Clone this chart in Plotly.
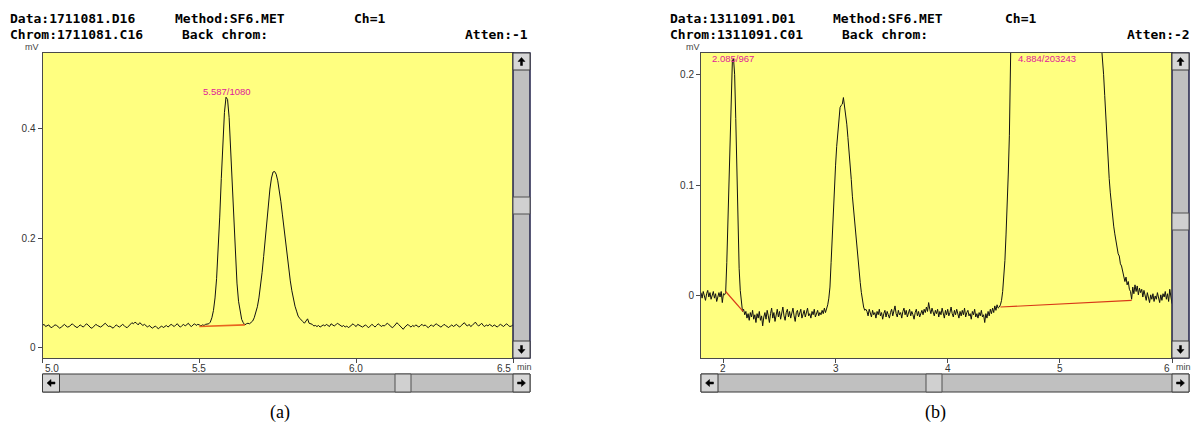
import plotly.graph_objects as go

W, H = 1193, 428


def px(x):
    return x / W


def py(y):
    return 1 - y / H


# ---------------- DATA ----------------
# Panel (a): time grid start/step (min) and detector signal (mV)
A_T0, A_DT = 5.0, 0.005
a_signal = [
    0.041, 0.043, 0.039, 0.040, 0.042, 0.038, 0.037, 0.040, 0.042, 0.041, 0.039, 0.036, 0.038, 0.041, 0.043, 0.040, 0.038, 0.039, 0.042, 0.044,
    0.041, 0.039, 0.037, 0.039, 0.042, 0.040, 0.038, 0.041, 0.044, 0.042, 0.039, 0.036, 0.037, 0.040, 0.043, 0.041, 0.039, 0.038, 0.040, 0.043,
    0.045, 0.042, 0.039, 0.040, 0.038, 0.036, 0.039, 0.042, 0.040, 0.038, 0.040, 0.043, 0.041, 0.038, 0.037, 0.040, 0.043, 0.046, 0.044, 0.047,
    0.045, 0.042, 0.046, 0.044, 0.041, 0.043, 0.040, 0.038, 0.041, 0.039, 0.036, 0.038, 0.040, 0.037, 0.035, 0.038, 0.040, 0.037, 0.039, 0.041,
    0.038, 0.040, 0.043, 0.041, 0.039, 0.042, 0.044, 0.040, 0.038, 0.041, 0.043, 0.040, 0.042, 0.045, 0.041, 0.039, 0.042, 0.044, 0.041, 0.043,
    0.042, 0.040, 0.042, 0.041, 0.043, 0.043, 0.044, 0.047, 0.055, 0.068, 0.091, 0.126, 0.176, 0.238, 0.308, 0.375, 0.428, 0.456, 0.452, 0.419,
    0.362, 0.294, 0.225, 0.165, 0.118, 0.085, 0.064, 0.052, 0.046, 0.042, 0.044, 0.045, 0.044, 0.047, 0.049, 0.055, 0.063, 0.075, 0.091, 0.112,
    0.137, 0.166, 0.198, 0.231, 0.262, 0.289, 0.309, 0.320, 0.321, 0.316, 0.304, 0.287, 0.266, 0.242, 0.216, 0.190, 0.166, 0.142, 0.122, 0.104,
    0.088, 0.076, 0.067, 0.058, 0.054, 0.050, 0.048, 0.045, 0.049, 0.053, 0.045, 0.044,
    0.043, 0.040, 0.041, 0.039, 0.041, 0.038, 0.040, 0.042, 0.040, 0.043, 0.041, 0.039, 0.044, 0.042, 0.040, 0.042, 0.045, 0.043, 0.041, 0.039,
    0.041, 0.038, 0.040, 0.037, 0.039, 0.042, 0.044, 0.041, 0.039, 0.043, 0.041, 0.040, 0.038, 0.040, 0.042, 0.039, 0.037, 0.040, 0.043, 0.041,
    0.038, 0.041, 0.044, 0.042, 0.039, 0.041, 0.040, 0.043, 0.045, 0.042, 0.040, 0.037, 0.039, 0.042, 0.046, 0.043, 0.040, 0.036, 0.034, 0.038,
    0.041, 0.043, 0.040, 0.038, 0.041, 0.039, 0.042, 0.040, 0.038, 0.041, 0.043, 0.040, 0.042, 0.039, 0.037, 0.040, 0.042, 0.039, 0.041, 0.044,
    0.042, 0.040, 0.038, 0.040, 0.043, 0.041, 0.039, 0.037, 0.040, 0.042, 0.039, 0.041, 0.043, 0.040, 0.038, 0.041, 0.044, 0.046, 0.042, 0.040,
    0.043, 0.039, 0.041, 0.044, 0.047, 0.043, 0.040, 0.042, 0.045, 0.041, 0.039, 0.042, 0.040, 0.043, 0.041, 0.039, 0.042, 0.040, 0.038, 0.041,
    0.043, 0.041, 0.039, 0.042, 0.044, 0.041, 0.039, 0.040, 0.042,
]

# Panel (b): time grid start/step (min) and detector signal (mV)
B_T0, B_DT = 1.8, 0.01
b_signal = [
    # 1.80 - 2.01
    0.003, -0.002, 0.004, 0.000, -0.004, 0.002, 0.005, -0.001, 0.003, -0.003, 0.001, 0.004, -0.002, 0.002, -0.005, 0.000, 0.003, -0.001, 0.004, -0.006, 0.002, 0.001,
    # 2.02 - 2.17
    0.003, 0.030, 0.070, 0.110, 0.155, 0.190, 0.213, 0.214, 0.200, 0.160, 0.105, 0.060, 0.025, 0.005, -0.008, -0.014,
    # 2.18 - 2.90
    -0.012, -0.017, -0.014, -0.020, -0.016, -0.022, -0.015, -0.019, -0.013, -0.021,
    -0.017, -0.024, -0.016, -0.020, -0.014, -0.022, -0.018, -0.027, -0.019, -0.015,
    -0.021, -0.013, -0.018, -0.024, -0.016, -0.011, -0.020, -0.015, -0.023, -0.017,
    -0.012, -0.019, -0.014, -0.021, -0.016, -0.010, -0.018, -0.022, -0.015, -0.012,
    -0.019, -0.014, -0.020, -0.016, -0.011, -0.018, -0.023, -0.015, -0.013, -0.019,
    -0.016, -0.012, -0.020, -0.017, -0.013, -0.019, -0.015, -0.011, -0.018, -0.016,
    -0.020, -0.014, -0.017, -0.012, -0.019, -0.016, -0.013, -0.018, -0.015, -0.017,
    -0.013, -0.016, -0.011,
    # 2.91 - 3.27
    -0.015, -0.012, -0.008, -0.002, 0.008, 0.030, 0.055, 0.078, 0.100, 0.118, 0.135, 0.148, 0.160, 0.170, 0.172, 0.173, 0.179, 0.172, 0.165,
    0.155, 0.143, 0.127, 0.118, 0.105, 0.090, 0.078, 0.068, 0.058, 0.048, 0.035, 0.022, 0.012, 0.003, -0.005, -0.010, -0.013, -0.012,
    # 3.28 - 4.45
    -0.014, -0.018, -0.012, -0.016, -0.019, -0.013, -0.017, -0.015, -0.020, -0.014,
    -0.017, -0.012, -0.018, -0.015, -0.021, -0.016, -0.013, -0.019, -0.014, -0.017,
    -0.020, -0.015, -0.012, -0.018, -0.014, -0.009, -0.016, -0.019, -0.013, -0.017,
    -0.015, -0.020, -0.014, -0.011, -0.017, -0.013, -0.019, -0.016, -0.012, -0.018,
    -0.014, -0.017, -0.021, -0.015, -0.012, -0.018, -0.014, -0.019, -0.016, -0.013,
    -0.017, -0.012, -0.015, -0.010, -0.014, -0.006, -0.012, -0.016, -0.011, -0.015,
    -0.018, -0.013, -0.016, -0.012, -0.019, -0.014, -0.017, -0.011, -0.015, -0.020,
    -0.013, -0.017, -0.012, -0.018, -0.015, -0.010, -0.016, -0.019, -0.013, -0.017,
    -0.012, -0.016, -0.020, -0.014, -0.018, -0.013, -0.017, -0.011, -0.019, -0.015,
    -0.013, -0.018, -0.016, -0.021, -0.014, -0.017, -0.012, -0.019, -0.016, -0.020,
    -0.015, -0.018, -0.013, -0.019, -0.017, -0.024, -0.016, -0.020, -0.014, -0.018,
    -0.012, -0.016, -0.011, -0.015, -0.009, -0.013, -0.008, -0.011,
    # 4.46 - 5.64 (main peak, off scale in the middle)
    -0.010, -0.008, -0.004, 0.004, 0.016, 0.032, 0.055, 0.078, 0.110, 0.145, 0.205, 0.26, 0.34, 0.45,
    0.58, 0.70, 0.82, 0.94, 1.05, 1.16, 1.26, 1.36, 1.45, 1.54,
    1.62, 1.70, 1.77, 1.84, 1.90, 1.96, 2.01, 2.06, 2.10, 2.14,
    2.17, 2.20, 2.22, 2.24, 2.25, 2.26, 2.27, 2.27, 2.28, 2.27,
    2.26, 2.25, 2.23, 2.21, 2.19, 2.16, 2.13, 2.10, 2.06, 2.02,
    1.98, 1.93, 1.88, 1.83, 1.77, 1.71, 1.65, 1.59, 1.53, 1.46,
    1.40, 1.33, 1.27, 1.20, 1.14, 1.07, 1.01, 0.95, 0.89, 0.83,
    0.78, 0.72, 0.67, 0.62, 0.57, 0.53, 0.48, 0.44, 0.41, 0.38,
    0.36, 0.335, 0.31, 0.29, 0.27, 0.255, 0.24, 0.228, 0.218, 0.200,
    0.181, 0.160, 0.141, 0.122, 0.106, 0.093, 0.081, 0.071, 0.063, 0.056,
    0.049, 0.045, 0.038, 0.036, 0.029, 0.027, 0.021, 0.019, 0.013, 0.017,
    0.010, 0.013, 0.006, 0.004, -0.003,
    # 5.65 - 6.00
    0.008, 0.002, 0.010, 0.004, 0.009, 0.001, 0.007, 0.003, 0.006, -0.001,
    0.005, 0.000, -0.004, 0.003, -0.002, -0.006, 0.001, -0.003, 0.002, -0.005,
    0.000, -0.003, 0.003, -0.002, -0.006, 0.001, -0.004, 0.002, -0.001, 0.004,
    -0.003, 0.002, -0.005, 0.006, -0.002, -0.007,
]

assert len(a_signal) == 301, len(a_signal)
assert len(b_signal) == 421, len(b_signal)

a_time = [round(A_T0 + A_DT * i, 4) for i in range(len(a_signal))]
b_time = [round(B_T0 + B_DT * i, 4) for i in range(len(b_signal))]

# integration baselines (red)
a_base_t = [5.500, 5.645]
a_base_v = [0.039, 0.042]
b_base1_t = [2.02, 2.175]
b_base1_v = [0.004, -0.014]
b_base2_t = [4.47, 5.64]
b_base2_v = [-0.010, -0.004]

# peak labels
a_peak_t = [5.587]
a_peak_v = [0.467]
a_peak_text = ["5.587/1080"]
b_peak_t = [2.085, 4.884]
b_peak_v = [0.2138, 0.2138]
b_peak_text = ["2.085/967", "4.884/203243"]

# axis ticks
a_xticks = [5.0, 5.5, 6.0, 6.5]
a_xtext = ["5.0", "5.5", "6.0", "6.5"]
a_yticks = [0, 0.2, 0.4]
a_ytext = ["0", "0.2", "0.4"]
b_xticks = [2, 3, 4, 5, 6]
b_xtext = ["2", "3", "4", "5", "6"]
b_yticks = [0, 0.1, 0.2]
b_ytext = ["0", "0.1", "0.2"]

# header texts: (text, x pixel, row, anchor)
a_header = [("Data:1711081.D16", 8, 1, "left"), ("Method:SF6.MET", 173, 1, "left"), ("Ch=1", 352, 1, "left"),
            ("Chrom:1711081.C16", 8, 2, "left"), ("Back chrom:", 180, 2, "left"), ("Atten:-1", 530, 2, "right")]
b_header = [("Data:1311091.D01", 668, 1, "left"), ("Method:SF6.MET", 831, 1, "left"), ("Ch=1", 1003, 1, "left"),
            ("Chrom:1311091.C01", 668, 2, "left"), ("Back chrom:", 840, 2, "left"), ("Atten:-2", 1192, 2, "right")]

# ---------------- FIGURE ----------------
fig = go.Figure()
fig.add_trace(go.Scatter(x=a_time, y=a_signal, mode="lines", line=dict(color="#111111", width=1),
                         xaxis="x", yaxis="y", hoverinfo="skip"))
fig.add_trace(go.Scatter(x=a_base_t, y=a_base_v, mode="lines", line=dict(color="#e8641e", width=1.6),
                         xaxis="x", yaxis="y", hoverinfo="skip"))
fig.add_trace(go.Scatter(x=b_time, y=b_signal, mode="lines", line=dict(color="#111111", width=1),
                         xaxis="x2", yaxis="y2", hoverinfo="skip"))
fig.add_trace(go.Scatter(x=b_base1_t, y=b_base1_v, mode="lines", line=dict(color="#d83818", width=1.2),
                         xaxis="x2", yaxis="y2", hoverinfo="skip"))
fig.add_trace(go.Scatter(x=b_base2_t, y=b_base2_v, mode="lines", line=dict(color="#d83818", width=1.2),
                         xaxis="x2", yaxis="y2", hoverinfo="skip"))

AX = "#4a4a4a"
TICKFONT = dict(family="Liberation Sans", size=10, color="#333333")


def xaxis_cfg(x0, x1, rng, ticks, anchor):
    return dict(domain=[px(x0), px(x1)], range=rng, showgrid=False, zeroline=False,
                showline=True, linecolor=AX, linewidth=1, mirror=True,
                ticks="outside", ticklen=4, tickcolor=AX, tickvals=ticks,
                showticklabels=False, fixedrange=True, anchor=anchor)


def yaxis_cfg(rng, ticks, text, anchor):
    return dict(domain=[py(358), py(53)], range=rng, showgrid=False, zeroline=False,
                showline=True, linecolor=AX, linewidth=1, mirror=True,
                ticks="outside", ticklen=4, tickcolor=AX, tickvals=ticks, ticktext=text,
                tickfont=TICKFONT, anchor=anchor, fixedrange=True)


shapes = []
annotations = []


def rect(x0, y0, x1, y1, fill, line="#404040", lw=1):
    shapes.append(dict(type="rect", xref="paper", yref="paper", x0=px(x0), x1=px(x1),
                       y0=py(y1), y1=py(y0), fillcolor=fill, line=dict(color=line, width=lw), layer="above"))


def arrow(cx, cy, d):
    pts = [(-3.5, 0), (0, -4), (3.5, 0), (1, 0), (1, 4), (-1, 4), (-1, 0)]
    out = []
    for dx, dy in pts:
        if d == "up":
            u, v = dx, dy
        elif d == "down":
            u, v = dx, -dy
        elif d == "left":
            u, v = dy, dx
        else:
            u, v = -dy, dx
        out.append((px(cx + u), py(cy + v)))
    path = "M " + " L ".join(f"{a:.5f},{b:.5f}" for a, b in out) + " Z"
    shapes.append(dict(type="path", xref="paper", yref="paper", path=path,
                       fillcolor="#000000", line=dict(color="#000000", width=0.5), layer="above"))


def button(x0, y0, x1, y1, d):
    rect(x0, y0, x1, y1, "#d6d6d6", "#3a3a3a", 1)
    arrow((x0 + x1) / 2, (y0 + y1) / 2, d)


def panel_chrome(left, right_plot, right, vthumb, hthumb):
    # vertical scrollbar
    rect(right_plot, 53, right, 358, "#c0c0c0", "#22224a", 1.5)
    button(right_plot, 53, right, 70, "up")
    button(right_plot, 341, right, 358, "down")
    rect(right_plot, vthumb, right, vthumb + 17, "#d0d0d0", "#505050", 1)
    # horizontal scrollbar
    rect(left, 374, right, 392, "#c0c0c0", "#3a3a3a", 1)
    button(left, 374, left + 17, 392, "left")
    button(right - 17, 374, right, 392, "right")
    rect(hthumb, 374, hthumb + 16, 392, "#d0d0d0", "#505050", 1)


panel_chrome(42.5, 513, 530, 197, 395)
panel_chrome(701, 1172, 1189, 213, 926)

MONO = dict(family="DejaVu Sans Mono", size=13, color="#000000")
for hdr in (a_header, b_header):
    for text, xl, row, anc in hdr:
        annotations.append(dict(text="<b>" + text + "</b>", x=px(xl), y=py(18.5 if row == 1 else 35),
                                xref="paper", yref="paper", xanchor=anc, yanchor="middle",
                                showarrow=False, font=MONO))

SMALL = dict(family="Liberation Sans", size=9, color="#444444")
for xc in (32, 693):
    annotations.append(dict(text="mV", x=px(xc), y=py(47), xref="paper", yref="paper",
                            xanchor="center", yanchor="middle", showarrow=False, font=SMALL))
for xl in (515, 1174):
    annotations.append(dict(text="min", x=px(xl), y=py(367), xref="paper", yref="paper",
                            xanchor="left", yanchor="middle", showarrow=False, font=SMALL))

for ticks, texts, xref, lo, hi in ((a_xticks, a_xtext, "x", 5.0, 6.5), (b_xticks, b_xtext, "x2", 1.8, 6.0)):
    for t, s in zip(ticks, texts):
        anc = "left" if abs(t - lo) < 1e-9 else ("right" if abs(t - hi) < 1e-9 else "center")
        annotations.append(dict(text=s, x=t, y=py(368), xref=xref, yref="paper", xanchor=anc,
                                yanchor="middle", showarrow=False, font=TICKFONT))

PINK = dict(family="Liberation Sans", size=9.5, color="#e0209a")
for t, v, s in zip(a_peak_t, a_peak_v, a_peak_text):
    annotations.append(dict(text=s, x=t, y=v, xref="x", yref="y", xanchor="center", yanchor="middle",
                            showarrow=False, font=PINK))
for t, v, s in zip(b_peak_t, b_peak_v, b_peak_text):
    annotations.append(dict(text=s, x=t, y=v, xref="x2", yref="y2", xanchor="center", yanchor="middle",
                            showarrow=False, font=PINK))

CAP = dict(family="Liberation Serif", size=18, color="#000000")
for s, xc in (("(a)", 280), ("(b)", 935)):
    annotations.append(dict(text=s, x=px(xc), y=py(412), xref="paper", yref="paper", xanchor="center",
                            yanchor="middle", showarrow=False, font=CAP))

fig.update_layout(
    width=W, height=H, margin=dict(l=0, r=0, t=0, b=0),
    paper_bgcolor="#ffffff", plot_bgcolor="#ffff80", showlegend=False,
    xaxis=xaxis_cfg(42.5, 513, [5.0, 6.5], a_xticks, "y"),
    yaxis=yaxis_cfg([-0.0182, 0.5364], a_yticks, a_ytext, "x"),
    xaxis2=xaxis_cfg(701, 1172, [1.8, 6.0], b_xticks, "y2"),
    yaxis2=yaxis_cfg([-0.056, 0.2192], b_yticks, b_ytext, "x2"),
    shapes=shapes, annotations=annotations,
)

fig.write_html("out.html", config={"displayModeBar": False})
